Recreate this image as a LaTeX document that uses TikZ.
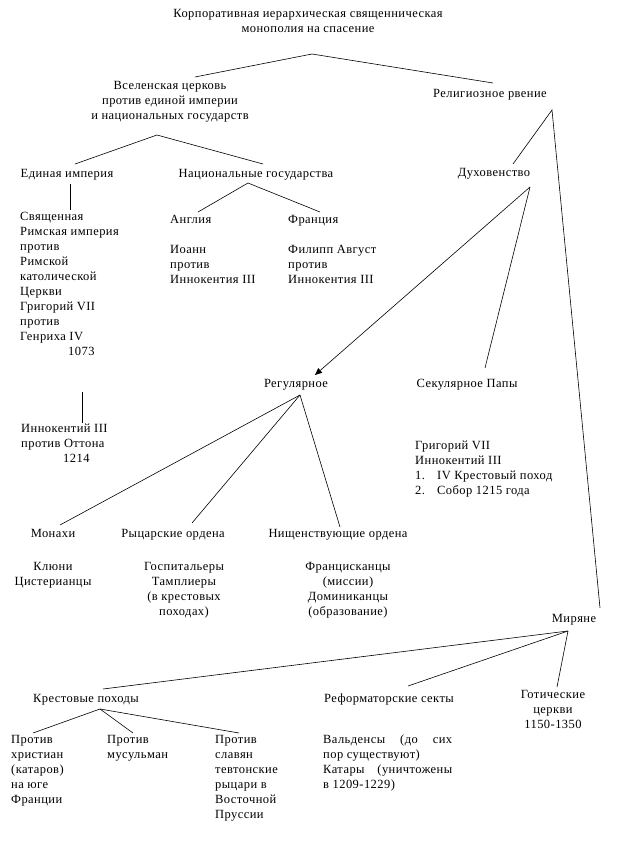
\documentclass[tikz,border=0pt]{standalone}
\usepackage{fontspec}
\setmainfont{Liberation Serif}[LetterSpace=3.5]
\usepackage{tikz}
\usetikzlibrary{positioning, arrows.meta}
\tikzset{
  txt/.style={inner sep=0pt, font=\fontsize{12.5}{15}\selectfont, execute at begin node=\strut},
  ctr/.style={txt, anchor=north, align=center},
  lft/.style={txt, anchor=north west, align=left},
  link/.style={line width=0.6pt},
  >={Triangle[length=7pt, width=6pt]},
}

\begin{document}
\begin{tikzpicture}[x=1pt, y=-1pt]
    \useasboundingbox (0,0) rectangle (618,849);
    % top levels
    \node[ctr] (mono) at (308,9.5) {Корпоративная иерархическая священническая\\монополия на спасение};
    \node[ctr] (church) at (170,81.5) {Вселенская церковь\\против единой империи\\и национальных государств};
    \node[ctr] (zeal) at (490,86.5) {Религиозное рвение};
    \node[ctr] (empire) at (67,166.5) {Единая империя};
    \node[ctr] (nations) at (256,166.5) {Национальные государства};
    \node[ctr] (clergy) at (494,165.5) {Духовенство};
    % empire and nations
    \node[lft] (hre) at (20,212.5) {Священная\\Римская империя\\против\\Римской\\католической\\Церкви\\Григорий VII\\против\\Генриха IV\\\hspace*{48pt}1073};
    \node[lft] (otto) at (21,423.5) {Иннокентий III\\против Оттона\\\hspace*{42pt}1214};
    \node[lft] (england) at (170,212.5) {Англия};
    \node[lft] (france) at (288,212.5) {Франция};
    \node[lft] (john) at (170,245.5) {Иоанн\\против\\Иннокентия III};
    \node[lft] (philip) at (288,245.5) {Филипп Август\\против\\Иннокентия III};
    % clergy
    \node[ctr] (regular) at (296,376.5) {Регулярное};
    \node[ctr] (secular) at (467,376.5) {Секулярное Папы};
    \node[lft] (popes) at (415,440.5) {Григорий VII\\Иннокентий III\\\makebox[22pt][l]{1.}IV Крестовый поход\\\makebox[22pt][l]{2.}Собор 1215 года};
    \node[ctr] (monks) at (53,526.5) {Монахи};
    \node[ctr] (knights) at (173,526.5) {Рыцарские ордена};
    \node[ctr] (friars) at (338,526.5) {Нищенствующие ордена};
    \node[ctr] (cluny) at (53,562.5) {Клюни\\Цистерианцы};
    \node[ctr] (templars) at (184,562.5) {Госпитальеры\\Тамплиеры\\(в крестовых\\походах)};
    \node[ctr] (francis) at (348,562.5) {Францисканцы\\(миссии)\\Доминиканцы\\(образование)};
    % laity
    \node[ctr] (laity) at (574,611.5) {Миряне};
    \node[ctr] (crusades) at (86,691.5) {Крестовые походы};
    \node[ctr] (sects) at (389,691.5) {Реформаторские секты};
    \node[ctr] (gothic) at (553,690.5) {Готические\\церкви\\1150-1350};
    \node[lft] (cathars) at (11,735.5) {Против\\христиан\\(катаров)\\на юге\\Франции};
    \node[lft] (muslims) at (107,735.5) {Против\\мусульман};
    \node[lft] (slavs) at (215,735.5) {Против\\славян\\тевтонские\\рыцари в\\Восточной\\Пруссии};
    \node[lft] (waldo) at (323,734.5) {\makebox[129pt][s]{Вальденсы\hfill(до\hfill сих}\\пор существуют)\\\makebox[129pt][s]{Катары\hfill(уничтожены}\\в 1209-1229)};

    % forks
    \coordinate (mono-f) at (312,54);
    \coordinate (church-f) at (157,135);
    \coordinate (nations-f) at (248,183);
    \coordinate (zeal-f) at (552,110);
    \coordinate (clergy-f) at (530,187);
    \coordinate (regular-f) at (300,395);
    \coordinate (laity-f) at (568,631);
    \coordinate (crusades-f) at (100,709);
    % line ends
    \coordinate (church-t) at (195,77);
    \coordinate (zeal-t) at (493,83);
    \coordinate (empire-t) at (75,164);
    \coordinate (nations-t) at (263,164);
    \coordinate (empire-b) at (70,184);
    \coordinate (hre-t) at (70,210);
    \coordinate (hre-b) at (82,392);
    \coordinate (otto-t) at (82,423);
    \coordinate (england-t) at (198,212);
    \coordinate (france-t) at (320,212);
    \coordinate (clergy-t) at (513,164);
    \coordinate (laity-t) at (600,608);
    \coordinate (regular-t) at (315,375);
    \coordinate (secular-t) at (485,368);
    \coordinate (monks-t) at (60,525);
    \coordinate (knights-t) at (192,523);
    \coordinate (friars-t) at (340,527);
    \coordinate (crusades-t) at (103,689);
    \coordinate (sects-t) at (408,686);
    \coordinate (gothic-t) at (557,687);
    \coordinate (cathars-t) at (33,733);
    \coordinate (muslims-t) at (133,733);
    \coordinate (slavs-t) at (239,733);

    \draw[link] (church-t) -- (mono-f) -- (zeal-t);
    \draw[link] (empire-t) -- (church-f) -- (nations-t);
    \draw[link] (england-t) -- (nations-f) -- (france-t);
    \draw[link] (empire-b) -- (hre-t);
    \draw[link] (hre-b) -- (otto-t);
    \draw[link] (clergy-t) -- (zeal-f) -- (laity-t);
    \draw[link, ->] (clergy-f) -- (regular-t);
    \draw[link] (clergy-f) -- (secular-t);
    \draw[link] (regular-f) -- (monks-t);
    \draw[link] (regular-f) -- (knights-t);
    \draw[link] (regular-f) -- (friars-t);
    \draw[link] (laity-f) -- (crusades-t);
    \draw[link] (laity-f) -- (sects-t);
    \draw[link] (laity-f) -- (gothic-t);
    \draw[link] (crusades-f) -- (cathars-t);
    \draw[link] (crusades-f) -- (muslims-t);
    \draw[link] (crusades-f) -- (slavs-t);
\end{tikzpicture}
\end{document}
